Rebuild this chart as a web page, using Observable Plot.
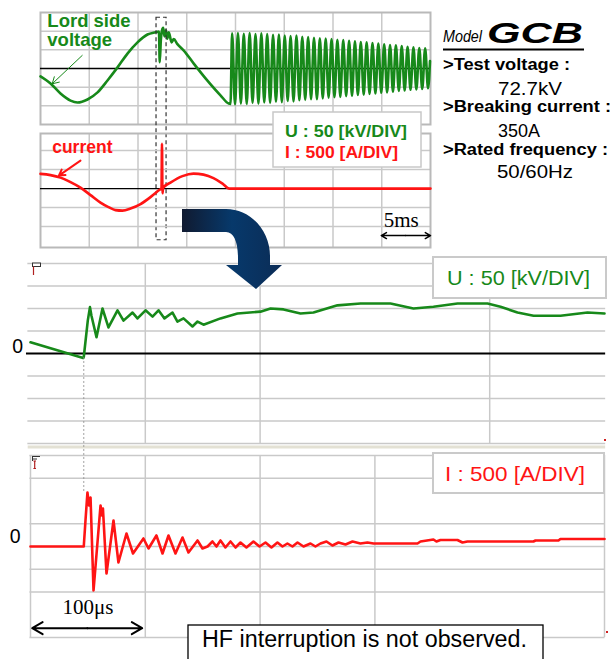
<!DOCTYPE html>
<html><head><meta charset="utf-8">
<script src="https://cdn.jsdelivr.net/npm/d3@7"></script>
<script src="https://cdn.jsdelivr.net/npm/@observablehq/plot@0.6"></script>
<style>
body{margin:0;background:#fff;}
#wrap{position:relative;width:616px;height:659px;overflow:hidden;background:#fff;}
#wrap svg{position:absolute;left:0;top:0;}
</style></head><body><div id="wrap"></div>
<script>
// ---------- DATA ----------
// Top oscilloscope: time in ms, voltage in kV, current in A
const topTimeGrid = [5, 10, 15, 20, 25, 30, 35];
const topVoltGrid = [-100, -50, 50, 100];
const topCurrGrid = [-1000, -500, 500, 1000];
const topVoltLF = [[0,-21],[1.03,-40],[2.05,-67],[3.08,-86],[3.79,-91],[4.82,-83],[5.85,-64],[6.87,-32],[7.90,3],[8.92,40],[9.95,70],[10.97,91],[11.79,97],[12.15,99],[12.23,17],[12.34,75],[12.46,102],[12.58,109],[12.72,86],[12.87,102],[13.00,80],[13.16,97],[13.44,70],[13.67,79],[14.02,66],[14.70,48],[15.72,13],[17.10,-32],[18.46,-72],[19.31,-94],[19.49,-95]];
const topVoltHF = [[19.65,94],[19.95,-96],[20.25,95],[20.55,-94],[20.85,93],[21.15,-95],[21.45,95],[21.75,-92],[22.05,92],[22.35,-94],[22.65,94],[22.95,-91],[23.25,92],[23.55,-92],[23.85,90],[24.15,-89],[24.45,91],[24.75,-90],[25.05,88],[25.35,-87],[25.65,87],[25.95,-88],[26.25,88],[26.55,-85],[26.85,85],[27.15,-84],[27.45,84],[27.75,-82],[28.05,82],[28.35,-82],[28.65,81],[28.95,-80],[29.25,80],[29.55,-78],[29.85,79],[30.15,-77],[30.45,77],[30.75,-76],[31.05,76],[31.35,-74],[31.65,74],[31.95,-73],[32.25,73],[32.55,-71],[32.85,71],[33.15,-70],[33.45,70],[33.75,-68],[34.05,68],[34.35,-67],[34.65,67],[34.95,-65],[35.25,65],[35.55,-64],[35.85,63],[36.15,-62],[36.45,62],[36.75,-60],[37.05,60],[37.35,-59],[37.65,58],[37.95,-57],[38.25,57],[38.55,-56],[38.85,55],[39.15,-55],[39.45,54],[39.75,-53],[39.95,20]];
const topCurrent = [[0,387],[1.03,355],[2.05,289],[3.08,171],[4.10,26],[5.13,-171],[6.15,-368],[6.97,-487],[7.69,-566],[8.41,-579],[9.23,-526],[10.26,-408],[11.28,-224],[12.10,-53],[12.41,13],[12.46,1176],[12.51,-124],[12.57,18],[13.33,158],[14.56,329],[15.69,395],[16.72,368],[17.74,276],[18.67,132],[19.38,0],[40,0]];
const zoomWindow = {t1: 11.9, t2: 12.93, v1: 136, v2: -460};

// Bottom (zoomed) traces: time in microseconds, voltage in kV, current in A
const botVoltGrid = [-200, -150, -100, -50, 50, 100, 150, 200];
const botVoltTimeGrid = [100, 200, 400];
const botCurrGrid = [-2000, -1000, -500, 0, 500, 1500, 2000];
const botCurrTimeGrid = [0, 100, 200, 300, 500];
const botVoltage = [[0,25],[45.9,-10],[46.4,-8],[49.9,73],[51.8,103],[53.1,84],[57.5,36],[62.7,100],[67.9,58],[75.8,96],[81.0,73],[88.9,91],[93.2,78],[100.2,96],[106.3,82],[111.5,96],[116.7,78],[123.7,91],[128.0,71],[133.3,78],[141.1,60],[145.5,71],[150.7,64],[165.5,78],[180.3,89],[200.3,93],[209.1,100],[220.4,98],[235.2,89],[246.5,91],[267.4,107],[287.5,111],[313.6,111],[333.6,100],[351.0,104],[372.0,111],[398.1,111],[409.4,104],[424.2,91],[438.2,84],[461.7,84],[485.2,91],[500,89]];
const botCurrent = [[0,0],[46.4,0],[47.9,571],[49.6,1187],[51.0,901],[52.3,1077],[54.9,-967],[61.0,901],[62.3,681],[63.1,835],[66.2,-593],[72.3,571],[76.6,-352],[83.6,286],[89.3,-154],[98.4,176],[102.8,-44],[109.7,242],[115.0,-154],[120.2,242],[126.3,-154],[132.4,198],[137.6,-132],[145.5,132],[149.8,-44],[154.2,0],[158.5,110],[162.0,0],[165.5,132],[169.8,-22],[174.2,110],[178.6,-22],[182.9,88],[188.1,-22],[194.2,110],[199.5,0],[204.7,88],[209.9,-22],[215.1,88],[219.5,0],[223.8,66],[228.2,0],[232.6,88],[237.8,0],[243.9,66],[248.2,0],[252.6,66],[257.8,110],[263.0,22],[268.3,88],[274.4,44],[280.5,110],[287.4,66],[293.5,88],[298.8,66],[337.1,66],[339.7,110],[351.0,154],[353.6,110],[357.1,143],[371.9,143],[376.3,88],[380.6,110],[438.1,110],[439.9,132],[459.9,132],[461.6,165],[500,165]];
const switchingInstant = {t: 46.4, a1: 4154, a2: 1187};

// Texts
const specLines = [">Test voltage :", "72.7kV", ">Breaking current :", "350A", ">Rated frequency :", "50/60Hz"];
const scaleU = "U : 50 [kV/DIV]";
const scaleI = "I : 500 [A/DIV]";
const caption = "HF interruption is not observed.";

// ---------- STYLE ----------
const W = 616, H = 659;
const green = "#17891a", red = "#ff1414", gridC = "#c9c9c9", frameC = "#b9b9b9";
const sans = "Liberation Sans, Arial, Helvetica, sans-serif";
const serif = "Liberation Serif, Times New Roman, serif";
const st = {background: "transparent", overflow: "visible"};
const wrap = document.getElementById("wrap");
const X = d => d[0], Y = d => d[1];

// ---------- TOP VOLTAGE ----------
wrap.appendChild(Plot.plot({
  width: W, height: H, style: st,
  marginLeft: 40, marginRight: 186, marginTop: 12, marginBottom: 535,
  x: {domain: [0, 40], axis: null}, y: {domain: [-150, 150], axis: null},
  marks: [
    Plot.ruleX(topTimeGrid, {stroke: gridC, strokeWidth: 1.5}),
    Plot.ruleY(topVoltGrid, {stroke: gridC, strokeWidth: 1.5}),
    Plot.frame({stroke: frameC, strokeWidth: 2}),
    Plot.ruleY([0], {stroke: "#000", strokeWidth: 1.3}),
    Plot.line(topVoltLF.concat(topVoltHF), {x: X, y: Y, curve: "monotone-x", stroke: green, strokeWidth: 2.6}),
    Plot.rect([zoomWindow], {x1: d => d.t1, x2: d => d.t2, y1: d => d.v1, y2: d => d.v2, fill: "none", stroke: "#333", strokeWidth: 1.2, strokeDasharray: "4,3"}),
    Plot.text([{s: "Lord side\nvoltage", t: 0.7, v: 60}], {x: "t", y: "v", text: "s", textAnchor: "start", lineAnchor: "bottom", lineHeight: 1.04, fill: green, fontSize: 18.5, fontWeight: "bold", fontFamily: sans}),
    Plot.arrow([{t1: 4.28, v1: 35, t2: 1.2, v2: -41}], {x1: "t1", y1: "v1", x2: "t2", y2: "v2", stroke: green, strokeWidth: 1, headLength: 11})
  ]
}));

// ---------- TOP CURRENT ----------
wrap.appendChild(Plot.plot({
  width: W, height: H, style: st,
  marginLeft: 40, marginRight: 186, marginTop: 133, marginBottom: 412,
  x: {domain: [0, 40], axis: null}, y: {domain: [-1550, 1450], axis: null},
  marks: [
    Plot.ruleX(topTimeGrid, {stroke: gridC, strokeWidth: 1.5}),
    Plot.ruleY(topCurrGrid, {stroke: gridC, strokeWidth: 1.5}),
    Plot.frame({stroke: frameC, strokeWidth: 2}),
    Plot.ruleY([0], {stroke: "#000", strokeWidth: 1.3}),
    Plot.line(topCurrent, {x: X, y: Y, curve: "monotone-x", stroke: red, strokeWidth: 2.6}),
    Plot.text([{s: "current", t: 1.2, a: 928}], {x: "t", y: "a", text: "s", textAnchor: "start", lineAnchor: "bottom", fill: red, fontSize: 17.5, fontWeight: "bold", fontFamily: sans}),
    Plot.arrow([{t1: 4.1, a1: 736, t2: 1.88, a2: 342}], {x1: "t1", y1: "a1", x2: "t2", y2: "a2", stroke: red, strokeWidth: 2, headLength: 5}),
    Plot.text([{s: "5ms", t: 35.2, a: -1000}], {x: "t", y: "a", text: "s", textAnchor: "start", lineAnchor: "bottom", fill: "#000", fontSize: 21, fontFamily: serif}),
    Plot.arrow([{t1: 37.45, t2: 34.95, a: -1236}, {t1: 37.45, t2: 40, a: -1236}], {x1: "t1", x2: "t2", y1: "a", y2: "a", stroke: "#000", strokeWidth: 1.5, headLength: 6})
  ]
}));

// ---------- BOTTOM VOLTAGE ----------
wrap.appendChild(Plot.plot({
  width: W, height: H, style: st,
  marginLeft: 30, marginRight: 12, marginTop: 263, marginBottom: 216,
  x: {domain: [0, 500], axis: null}, y: {domain: [-200, 200], axis: null},
  marks: [
    Plot.ruleY([-208], {x1: -2, x2: 501, stroke: "#e3e1d4", strokeWidth: 3}),
    Plot.ruleX(botVoltTimeGrid, {stroke: gridC, strokeWidth: 1.5}),
    Plot.ruleY(botVoltGrid, {x1: -2.3, x2: 501, stroke: gridC, strokeWidth: 1.5}),
    Plot.ruleY([0], {x1: -3.5, x2: 501, stroke: "#000", strokeWidth: 2}),
    Plot.line(botVoltage, {x: X, y: Y, stroke: green, strokeWidth: 2.6}),
    Plot.text([{s: "0", t: -15.8, v: 0}], {x: "t", y: "v", text: "s", textAnchor: "start", lineAnchor: "bottom", dy: -1, fill: "#000", fontSize: 19.5, fontFamily: sans})
  ]
}));

// ---------- BOTTOM CURRENT ----------
wrap.appendChild(Plot.plot({
  width: W, height: H, style: st,
  marginLeft: 30, marginRight: 12, marginTop: 455, marginBottom: 22,
  x: {domain: [0, 500], axis: null}, y: {domain: [-2000, 2000], axis: null},
  marks: [
    Plot.ruleX(botCurrTimeGrid, {stroke: gridC, strokeWidth: 1.5}),
    Plot.ruleY(botCurrGrid, {x1: -0.5, x2: 500.5, stroke: gridC, strokeWidth: 1.5}),
    Plot.ruleX([switchingInstant], {x: "t", y1: "a1", y2: "a2", stroke: "#8a8a8a", strokeWidth: 0.8, strokeDasharray: "2,2"}),
    Plot.line(botCurrent, {x: X, y: Y, stroke: red, strokeWidth: 2.6}),
    Plot.text([{s: "0", t: -18, v: 0}], {x: "t", y: "v", text: "s", textAnchor: "start", lineAnchor: "bottom", dy: -4, fill: "#000", fontSize: 19.5, fontFamily: sans}),
    Plot.text([{s: "100μs", t: 27.9, a: -1473}], {x: "t", y: "a", text: "s", textAnchor: "start", lineAnchor: "bottom", fill: "#000", fontSize: 21, fontFamily: serif}),
    Plot.arrow([{t1: 49.5, t2: 1.5, a: -1795}, {t1: 49.5, t2: 97.3, a: -1795}], {x1: "t1", x2: "t2", y1: "a", y2: "a", stroke: "#000", strokeWidth: 2, headLength: 9})
  ]
}));

// ---------- OVERLAY: boxes, spec text, big arrow ----------
const ov = d3.create("svg").attr("width", W).attr("height", H);
const defs = ov.append("defs");
const g = defs.append("linearGradient").attr("id", "ag").attr("gradientUnits", "userSpaceOnUse")
  .attr("x1", 182).attr("y1", 0).attr("x2", 282).attr("y2", 0);
g.append("stop").attr("offset", 0).attr("stop-color", "#101a30");
g.append("stop").attr("offset", 0.5).attr("stop-color", "#07396b");
g.append("stop").attr("offset", 1).attr("stop-color", "#0b2c56");

function txt(x, y, s, opt) {
  const t = ov.append("text").attr("x", x).attr("y", y).attr("font-family", opt.family || sans)
    .attr("font-size", opt.size).attr("fill", opt.fill || "#000").text(s);
  if (opt.bold) t.attr("font-weight", "bold");
  if (opt.italic) t.attr("font-style", "italic");
  if (opt.len) t.attr("textLength", opt.len).attr("lengthAdjust", "spacingAndGlyphs");
  return t;
}

// top scale box
ov.append("rect").attr("x", 273).attr("y", 112).attr("width", 148).attr("height", 55).attr("fill", "#fff").attr("stroke", "#c8c8c8").attr("stroke-width", 1.5);
txt(285, 137, scaleU, {fill: green, bold: true, size: 17, len: 122});
txt(285, 158, scaleI, {fill: red, bold: true, size: 17, len: 113});

// model block
txt(443, 42, "Model", {italic: true, size: 17, len: 39});
txt(487, 43, "GCB", {italic: true, bold: true, size: 30, len: 96});
ov.append("line").attr("x1", 443).attr("x2", 584).attr("y1", 49.5).attr("y2", 49.5).attr("stroke", "#000").attr("stroke-width", 2);
const specPos = [[443, 70, true, 127], [498, 95, false, 64], [443, 112, true, 168], [498, 137, false, 42], [443, 155, true, 165], [497, 178, false, 76]];
specLines.forEach((s, i) => {
  const [x, y, b, len] = specPos[i];
  txt(x, y, s, {bold: b, size: b ? 16 : 19, len});
});

// bottom scale boxes
ov.append("rect").attr("x", 433).attr("y", 257).attr("width", 173).attr("height", 41).attr("fill", "#fff").attr("stroke", "#cacaca").attr("stroke-width", 2);
txt(447, 285, scaleU, {fill: green, size: 21, len: 143});
ov.append("rect").attr("x", 433).attr("y", 453).attr("width", 171).attr("height", 40).attr("fill", "#fff").attr("stroke", "#cacaca").attr("stroke-width", 2);
txt(445, 481, scaleI, {fill: red, size: 21, len: 140});

// caption box
ov.append("rect").attr("x", 188).attr("y", 625).attr("width", 355).attr("height", 45).attr("fill", "#fff").attr("stroke", "#000").attr("stroke-width", 1.3);
txt(202, 647, caption, {size: 23, len: 325});

// small trigger icons
ov.append("rect").attr("x", 32.5).attr("y", 263).attr("width", 8).attr("height", 3.5).attr("fill", "#fff").attr("stroke", "#333").attr("stroke-width", 1);
ov.append("line").attr("x1", 33.5).attr("x2", 33.5).attr("y1", 266.5).attr("y2", 275).attr("stroke", "#b02020").attr("stroke-width", 1.2);
ov.append("path").attr("d", "M32,456.5H40M32,459H37M32.5,456V461").attr("stroke", "#333").attr("stroke-width", 1).attr("fill", "none");
ov.append("path").attr("d", "M34.7,461V468.5M33.4,461H36M33.4,468.5H36").attr("stroke", "#b02020").attr("stroke-width", 1.2).attr("fill", "none");
ov.append("rect").attr("x", 604).attr("y", 439).attr("width", 2).attr("height", 2).attr("fill", "#d02020");
ov.append("rect").attr("x", 606).attr("y", 631).attr("width", 2).attr("height", 2).attr("fill", "#d02020");

// big curved arrow
ov.append("path")
  .attr("d", "M182,209 L226,209 C252,209 270,232 270,256 L270,265 L282,265 L256,289 L226,265 L238,265 L238,258 C238,242 234,232 226,232 L182,232 Z")
  .attr("fill", "url(#ag)");

wrap.appendChild(ov.node());
</script></body></html>
